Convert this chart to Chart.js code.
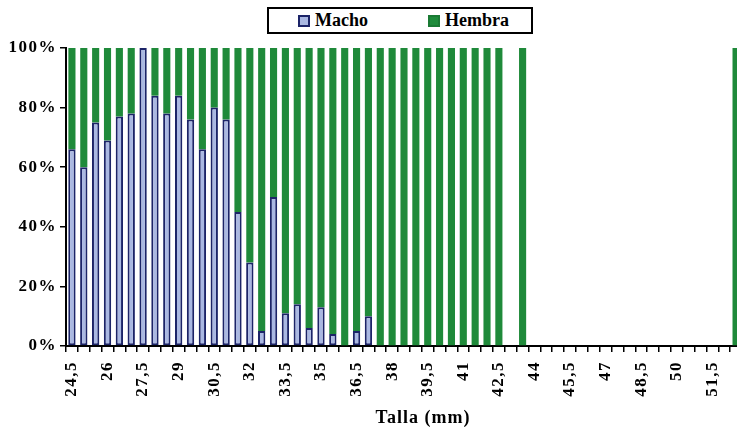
<!DOCTYPE html>
<html>
<head>
<meta charset="utf-8">
<script src="https://cdn.jsdelivr.net/npm/chart.js@4/dist/chart.umd.min.js"></script>
<style>
  html, body { margin: 0; padding: 0; background: #fff; overflow: hidden; width: 737px; height: 428px; }
  #wrap { position: relative; width: 750px; height: 428px; }
  #grafico { position: absolute; left: 0; top: 0; }
  #leyenda {
    position: absolute; left: 267px; top: 7px; width: 262px; height: 23px;
    border: 2px solid #000; background: #fff;
    font: bold 18px "Liberation Serif", "Times New Roman", serif; color: #000;
  }
  #leyenda .item { position: absolute; top: 0; height: 23px; line-height: 23px; white-space: nowrap; }
  #leyenda .caja { display: inline-block; width: 8px; height: 8px; vertical-align: -1px; margin-right: 5px; }
  .caja.macho { background: #aab8e2; border: 2px solid #1c2468; }
  .caja.hembra { background: #1f8c3c; border: 2px solid #1a7a34; }
</style>
</head>
<body>
<div id="wrap">
  <canvas id="grafico" width="750" height="428"></canvas>
  <div id="leyenda">
    <span class="item" style="left:29px"><span class="caja macho"></span>Macho</span>
    <span class="item" style="left:159px"><span class="caja hembra"></span>Hembra</span>
  </div>
</div>
<script>
// Clases de talla (mm), una barra por cada 0,5 mm
const tallas = [
  "24,5","25","25,5","26","26,5","27","27,5","28","28,5","29",
  "29,5","30","30,5","31","31,5","32","32,5","33","33,5","34",
  "34,5","35","35,5","36","36,5","37","37,5","38","38,5","39",
  "39,5","40","40,5","41","41,5","42","42,5","43","43,5","44",
  "44,5","45","45,5","46","46,5","47","47,5","48","48,5","49",
  "49,5","50","50,5","51","51,5","52","52,5"
];

// Porcentaje de machos por clase de talla
const macho = [
  66, 60, 75, 69, 77, 78, 100, 84, 78, 84,
  76, 66, 80, 76, 45, 28, 5, 50, 11, 14,
  6, 13, 4, 0, 5, 10, 0, 0, 0, 0,
  0, 0, 0, 0, 0, 0, 0, null, 0, null,
  null, null, null, null, null, null, null, null, null, null,
  null, null, null, null, null, null, 0
];

// Porcentaje de hembras por clase de talla
const hembra = [
  34, 40, 25, 31, 23, 22, 0, 16, 22, 16,
  24, 34, 20, 24, 55, 72, 95, 50, 89, 86,
  94, 87, 96, 100, 95, 90, 100, 100, 100, 100,
  100, 100, 100, 100, 100, 100, 100, null, 100, null,
  null, null, null, null, null, null, null, null, null, null,
  null, null, null, null, null, null, 100
];

// Etiquetas visibles en el eje de tallas
const etiquetasEje = ["24,5","26","27,5","29","30,5","32","33,5","35","36,5","38",
                      "39,5","41","42,5","44","45,5","47","48,5","50","51,5"];

const fuente = '"Liberation Serif", "Times New Roman", serif';

// Espaciado de letras para los textos del lienzo
const espaciado = {
  id: 'espaciado',
  beforeDraw(chart) { chart.ctx.letterSpacing = '1.5px'; }
};

// Título del eje X
const tituloEje = {
  id: 'tituloEje',
  afterDraw(chart) {
    const ctx = chart.ctx;
    ctx.save();
    ctx.letterSpacing = '1px';
    ctx.font = 'bold 18px ' + fuente;
    ctx.fillStyle = '#000';
    ctx.textAlign = 'center';
    ctx.textBaseline = 'middle';
    ctx.fillText('Talla (mm)', 423, 418);
    ctx.restore();
  }
};

new Chart(document.getElementById('grafico'), {
  type: 'bar',
  data: {
    labels: tallas,
    datasets: [
      {
        label: 'Macho',
        data: macho,
        backgroundColor: '#aab8e2',
        borderColor: '#1c2468',
        borderWidth: c => (c.raw ? 2 : 0),
        borderSkipped: false,
        barPercentage: 0.62,
        categoryPercentage: 1
      },
      {
        label: 'Hembra',
        data: hembra,
        backgroundColor: '#1f8a3a',
        borderWidth: 0,
        barPercentage: 0.6,
        categoryPercentage: 1
      }
    ]
  },
  options: {
    responsive: false,
    animation: false,
    layout: { padding: { top: 48, right: 8, left: 0, bottom: 0 } },
    plugins: { legend: { display: false }, tooltip: { enabled: false } },
    scales: {
      x: {
        stacked: true,
        afterFit(s) { s.height = 82; s.paddingLeft = 0; s.paddingRight = 0; },
        border: { color: '#000', width: 2 },
        grid: { drawOnChartArea: false, color: '#000', tickColor: '#000', lineWidth: 1.5, tickLength: 6, offset: true },
        ticks: {
          autoSkip: false,
          minRotation: 90,
          maxRotation: 90,
          padding: 9,
          color: '#000',
          font: { family: fuente, size: 17, weight: 'bold' },
          callback(v, i) {
            const t = tallas[i];
            return etiquetasEje.includes(t) ? t : '';
          }
        }
      },
      y: {
        stacked: true,
        min: 0,
        max: 100,
        afterFit(s) { s.width = 66; s.paddingTop = 0; s.paddingBottom = 0; },
        border: { color: '#000', width: 2 },
        grid: { drawOnChartArea: false, color: '#000', tickColor: '#000', lineWidth: 1.5, tickLength: 6 },
        ticks: {
          stepSize: 20,
          padding: 3,
          color: '#000',
          font: { family: fuente, size: 17, weight: 'bold' },
          callback: v => v + '%'
        }
      }
    }
  },
  plugins: [espaciado, tituloEje]
});
</script>
</body>
</html>
